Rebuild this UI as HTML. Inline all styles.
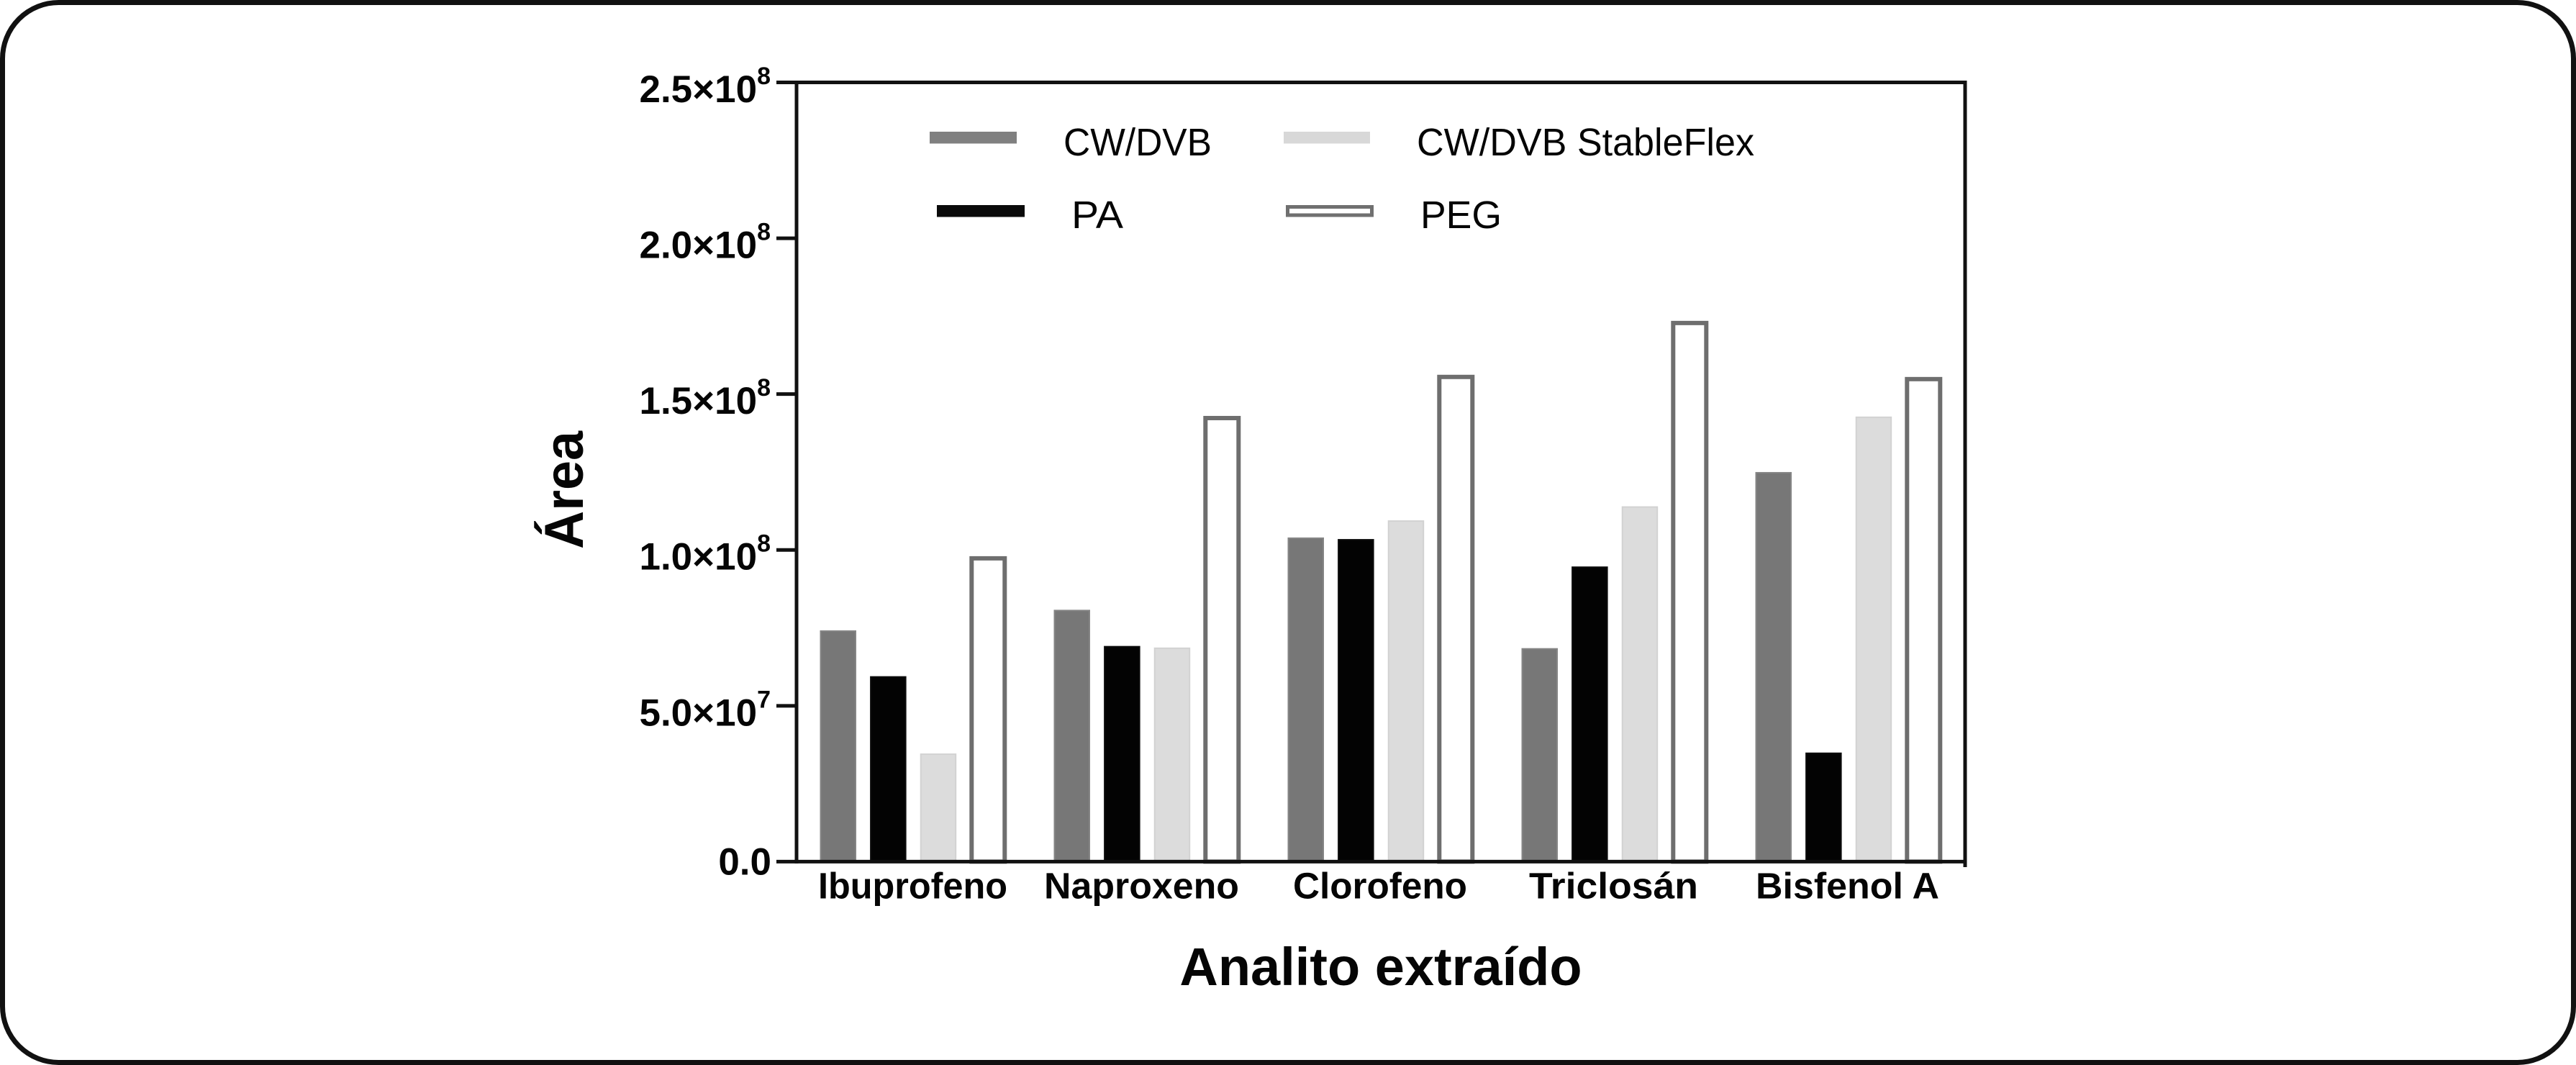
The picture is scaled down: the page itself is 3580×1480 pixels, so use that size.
<!DOCTYPE html>
<html lang="es">
<head>
<meta charset="utf-8">
<title>Área por analito extraído</title>
<style>
html,body{margin:0;padding:0;background:#fff;width:3580px;height:1480px;overflow:hidden}
svg{display:block}
text{font-family:"Liberation Sans",Arial,sans-serif;fill:#050505}
</style>
</head>
<body>
<svg id="chart" xmlns="http://www.w3.org/2000/svg" width="3580" height="1480" viewBox="0 0 3580 1480">
  <rect x="3.5" y="3.5" width="3573" height="1473" rx="78" ry="78" fill="#fff" stroke="#111" stroke-width="7"/>
  <g id="bars"></g>
  <g id="axes"></g>
  <text transform="translate(810 681) rotate(-90)" text-anchor="middle" font-size="76" font-weight="bold" textLength="164" lengthAdjust="spacingAndGlyphs">Área</text>
  <text x="1919" y="1369" text-anchor="middle" font-size="74" font-weight="bold">Analito extraído</text>
  <g>
    <rect x="1292" y="183" width="121" height="16.5" fill="#808080"/>
    <text x="1478" y="216" font-size="54" textLength="206" lengthAdjust="spacingAndGlyphs">CW/DVB</text>
    <rect x="1784" y="183" width="120" height="16.5" fill="#d8d8d8"/>
    <text x="1969" y="216" font-size="54" textLength="469" lengthAdjust="spacingAndGlyphs">CW/DVB StableFlex</text>
    <rect x="1302" y="285" width="122" height="16.5" fill="#0a0a0a"/>
    <text x="1489" y="317" font-size="54" textLength="72" lengthAdjust="spacingAndGlyphs">PA</text>
    <rect x="1789.5" y="287.5" width="117" height="11.5" fill="#fff" stroke="#707070" stroke-width="5"/>
    <text x="1974" y="317" font-size="54" textLength="113" lengthAdjust="spacingAndGlyphs">PEG</text>
  </g>
</svg>
<script>
const categories = ["Ibuprofeno", "Naproxeno", "Clorofeno", "Triclosán", "Bisfenol A"];
const cwDvb = [7.42e7, 8.08e7, 1.04e8, 6.85e7, 1.25e8];
const pa = [5.95e7, 6.92e7, 1.035e8, 9.47e7, 3.5e7];
const stableFlex = [3.47e7, 6.87e7, 1.095e8, 1.14e8, 1.428e8];
const peg = [9.8e7, 1.43e8, 1.562e8, 1.735e8, 1.555e8];
const tickValues = [0, 5e7, 1e8, 1.5e8, 2e8, 2.5e8];
const tickLabels = ["0.0", "5.0×10", "1.0×10", "1.5×10", "2.0×10", "2.5×10"];
const tickExponents = ["", "7", "8", "8", "8", "8"];

const NS = "http://www.w3.org/2000/svg";
const axisLeft = 1107, axisRight = 2731, axisBase = 1197.4, axisTop = 114.5, yMax = 2.5e8;
const barsLayer = document.getElementById("bars");
const axesLayer = document.getElementById("axes");

function yScale(v) { return axisBase - (v / yMax) * (axisBase - axisTop); }
function xScale(group, slot) { return 1139.5 + group * 325 + slot * 69.6; }
function make(tag, attrs, parent) {
  const el = document.createElementNS(NS, tag);
  for (const k in attrs) el.setAttribute(k, attrs[k]);
  parent.appendChild(el);
  return el;
}

const seriesList = [
  { key: "cw-dvb", values: cwDvb, fill: "#777777", edge: "#858585" },
  { key: "pa", values: pa, fill: "#030303", edge: "#0c0c0c" },
  { key: "cw-dvb-stableflex", values: stableFlex, fill: "#dcdcdc", edge: "#d2d2d2" },
  { key: "peg", values: peg, fill: "#ffffff", edge: "#6e6e6e" }
];

seriesList.forEach(function (s, slot) {
  s.values.forEach(function (v, g) {
    const isPeg = s.key === "peg";
    const sw = isPeg ? 6 : 2;
    const w = isPeg ? 52 : 50.5;
    const x = xScale(g, slot) + sw / 2 - (isPeg ? 1 : 0);
    const y = yScale(v) + sw / 2;
    const bar = make("rect", { x: x, y: y, width: w - sw, height: Math.max(axisBase - y, 0), fill: s.fill, stroke: s.edge, "stroke-width": sw }, barsLayer);
    
    
  });
});

function axisLine(x1, y1, x2, y2, name) {
  const l = make("line", { x1: x1, y1: y1, x2: x2, y2: y2, stroke: "#111", "stroke-width": 5 }, axesLayer);
  
  
}
axisLine(axisLeft, axisTop, axisLeft, axisBase + 2.5, "y-axis-line");
axisLine(axisLeft, axisBase, axisRight, axisBase, "x-axis-line");
axisLine(axisLeft, axisTop, axisRight, axisTop, "top-axis-line");
axisLine(axisRight, axisTop - 2.5, axisRight, 1205, "right-axis-line");

tickValues.forEach(function (v, i) {
  const y = yScale(v);
  axisLine(1079, y, axisLeft, y, "y-tick-" + i);
  const hasExp = tickExponents[i] !== "";
  const t = make("text", { x: hasExp ? 1071 : 1072, y: y + (hasExp ? 27.5 : 18), "text-anchor": "end", "font-size": 53, "font-weight": "bold" }, axesLayer);
  
  
  t.appendChild(document.createTextNode(tickLabels[i]));
  if (hasExp) {
    const sup = make("tspan", { dy: -25, "font-size": 34 }, t);
    sup.textContent = tickExponents[i];
  }
});

categories.forEach(function (c, g) {
  const left = [1137, 1451, 1797, 2125, 2440][g];
  const span = [263, 271, 242, 235, 255][g];
  const t = make("text", { x: left, y: 1248.5, "font-size": 51, "font-weight": "bold", textLength: span, lengthAdjust: "spacingAndGlyphs" }, axesLayer);
  
  
  t.textContent = c;
});
</script>
</body>
</html>
